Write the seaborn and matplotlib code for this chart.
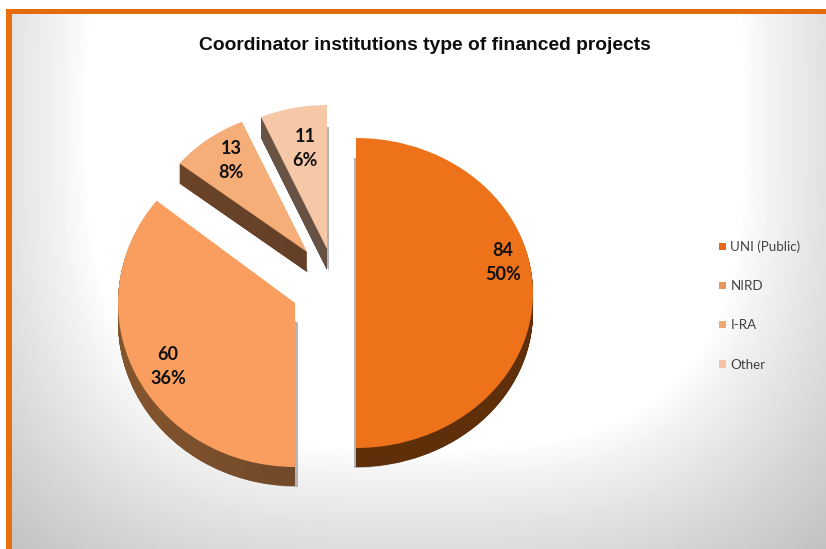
import numpy as np
import matplotlib
matplotlib.use("Agg")
import matplotlib.pyplot as plt
from matplotlib.colors import LinearSegmentedColormap
from matplotlib.patches import PathPatch, Rectangle, Patch
from matplotlib.path import Path
import seaborn as sns

sns.set_theme(style="white")

# data
title = "Coordinator institutions type of financed projects"
legend_labels = ["UNI (Public)", "NIRD", "I-RA", "Other"]
legend_colors = ["#E8681A", "#E8955F", "#EDA873", "#F5C4A5"]
slice_counts = [84, 60, 13, 11]
slice_percents = [50, 36, 8, 6]

# styles / layout
W, H = 826, 549
top_colors = ["#EE7219", "#F99E5F", "#F5AE78", "#F6C8A8"]
side_colors = [("#5F2F0A", "#5F2F0A"), ("#84562E", "#5F3D25"), ("#6C4428", "#5E3D28"), ("#6E5848", "#5E4A3C")]
shadow_dx = [-2, 3, 2, 2]
# cx, cy, rx, ry, depth in pixels
geometry = [
    (356, 293, 177, 155, 19),
    (295, 303, 177, 164, 19),
    (307, 252, 163, 142, 20),
    (327, 249, 165, 144, 21),
]
label_pos = [(503, 262.5), (168, 367), (231, 160), (305, 148)]

fig = plt.figure(figsize=(W / 100, H / 100), dpi=100, facecolor="white")

# background vignette
bg = fig.add_axes([0, 0, 1, 1], zorder=0)
yy, xx = np.mgrid[0:H, 0:W]
d = (np.abs((xx - 415) / 355) ** 3 + np.abs((yy - 120) / 355) ** 3) ** (1 / 3)
t = np.clip((d - 0.92) / 0.56, 0, 1)
grey = 1 - 0.24 * t ** 0.85
bg.imshow(grey, cmap="gray", vmin=0, vmax=1, extent=(0, W, H, 0), aspect="auto", interpolation="bilinear")
bg.add_patch(Rectangle((0, 0), W, 9, color="white", lw=0))
bg.add_patch(Rectangle((0, 0), 6, H, color="white", lw=0))
bg.add_patch(Rectangle((6, 9), W, 5, color="#E36C0A", lw=0))
bg.add_patch(Rectangle((6, 9), 6, H, color="#EC6E0A", lw=0))
bg.set_xlim(0, W)
bg.set_ylim(H, 0)
bg.axis("off")


def draw_layer(ax, i, color, dx, dy, z):
    wedges, _ = ax.pie(
        slice_counts, colors=[color] * len(slice_counts), startangle=90,
        counterclock=False, radius=1, center=(dx, dy), wedgeprops={"linewidth": 0},
    )
    for j, w in enumerate(wedges):
        w.set_visible(j == i)
    wedges[i].set_zorder(z)
    return wedges[i]


for i, (cx, cy, rx, ry, depth) in enumerate(geometry):
    ax = fig.add_axes([(cx - rx) / W, 1 - (cy + ry) / H, 2 * rx / W, 2 * ry / H], zorder=2 + i)
    draw_layer(ax, i, "#B4B4B4", shadow_dx[i] / rx, -(depth + 1) / ry, 1)
    paths = []
    for k in range(depth, 0, -1):
        w = draw_layer(ax, i, side_colors[i][0], 0, -k / ry, 1.5)
        paths.append(w.get_path())
    draw_layer(ax, i, top_colors[i], 0, 0, 3)
    # horizontal shading of the side wall
    cmap = LinearSegmentedColormap.from_list("side", list(side_colors[i]))
    im = ax.imshow(np.linspace(0, 1, 256)[None, :], cmap=cmap, extent=(-1, 1, -1.5, 1.1),
                   aspect="auto", zorder=2)
    im.set_clip_box(fig.bbox)
    im.set_clip_path(PathPatch(Path.make_compound_path(*paths), transform=ax.transData))
    ax.set_aspect("auto")
    ax.set_xlim(-1, 1)
    ax.set_ylim(-1, 1)
    ax.axis("off")
    ax.patch.set_visible(False)

# overlay for text
ov = fig.add_axes([0, 0, 1, 1], zorder=10)
ov.set_xlim(0, W)
ov.set_ylim(H, 0)
ov.axis("off")
ov.patch.set_visible(False)

ov.text(424.5, 45.5, title, ha="center", va="center", fontsize=13.88, fontweight="bold",
        family="Liberation Sans", color="#0D0D0D")

for (x, y), c, p in zip(label_pos, slice_counts, slice_percents):
    ov.text(x, y - 12, str(c), ha="center", va="center", fontsize=13, fontweight="bold",
            family="Lato", color="#111111")
    ov.text(x, y + 12, f"{p}%", ha="center", va="center", fontsize=13, fontweight="bold",
            family="Lato", color="#111111")

handles = [Patch(facecolor=c, edgecolor="none", label=l) for c, l in zip(legend_colors, legend_labels)]
leg = ov.legend(
    handles=handles, loc="upper left", bbox_to_anchor=(719 / W, 1 - 240.5 / H), frameon=False,
    prop={"family": "Lato", "size": 9.6}, handlelength=0.49, handleheight=0.49, handletextpad=0.36,
    labelspacing=2.04, borderpad=0, borderaxespad=0,
)
for t_ in leg.get_texts():
    t_.set_color("#404040")

fig.savefig("out.png", dpi=100)
